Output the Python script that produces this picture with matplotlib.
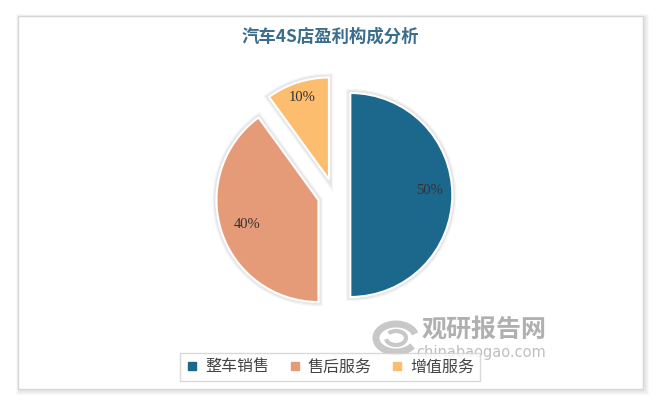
import matplotlib
matplotlib.use("Agg")
import matplotlib.pyplot as plt
import numpy as np
from matplotlib.patches import Rectangle, Wedge
from matplotlib.lines import Line2D

categories = ["整车销售", "售后服务", "增值服务"]
values = [50, 40, 10]
colors = ["#1B688C", "#E69B78", "#FCBE6E"]
title = "汽车4S店盈利构成分析"

plt.rcParams['font.family'] = ['Noto Sans CJK SC', 'DejaVu Sans']

W, H = 660, 405
fig = plt.figure(figsize=(W / 100, H / 100), dpi=100)
fig.patch.set_facecolor("white")

ax = fig.add_axes([0, 0, 1, 1])

# panel with soft shadow
for i in range(4):
    off = 4 - i
    ax.add_patch(Rectangle((18 - off + 2, H - 389 - off - 2), 625 + 2 * off, 373 + 2 * off,
                           facecolor="#000000", alpha=0.025, edgecolor="none", zorder=0))
ax.add_patch(Rectangle((18, H - 389), 625, 373, facecolor="white",
                       edgecolor="#D6D6D6", linewidth=1.0, zorder=1))

R = 102
wedges, _ = ax.pie(values, colors=colors, startangle=90, counterclock=False,
                   explode=[0.16 * R] * len(values), center=(334, H - 195), radius=R,
                   wedgeprops=dict(edgecolor="white", linewidth=1.5),
                   frame=True)
for w in wedges:
    w.set_zorder(3)
    # soft glow behind each slice
    for lw, a in [(6, 0.04), (4, 0.06)]:
        ax.add_patch(Wedge(w.center, w.r, w.theta1, w.theta2, facecolor="none",
                           edgecolor="#000000", linewidth=lw, alpha=a, zorder=2.5))

label_dist = [0.78, 0.74, 0.84]
label_dy = [4, -1, 0]
for w, v, d, dy in zip(wedges, values, label_dist, label_dy):
    ang = np.deg2rad((w.theta1 + w.theta2) / 2)
    cx, cy = w.center
    ax.text(cx + d * w.r * np.cos(ang), cy + d * w.r * np.sin(ang) + dy, f"{v}%",
            ha="center", va="center", fontsize=10.5, color="#333333",
            family="Liberation Serif", zorder=5)

ax.set_xlim(0, W)
ax.set_ylim(0, H)
ax.set_aspect("equal")
ax.axis("off")

# title
ax.text(330, H - 37, title, ha="center", va="center", fontsize=12.5,
        fontweight="bold", color="#3A6E8C", zorder=5)

# watermark
ax.text(484, H - 330, "观研报告网", ha="center", va="center", fontsize=18,
        fontweight="bold", color="#A8A8A8", alpha=0.9, zorder=2)
ax.text(481, H - 352, "chinabaogao.com", ha="center", va="center", fontsize=10.5,
        color="#B8B8B8", alpha=0.9, family="DejaVu Sans", zorder=2)
theta = np.linspace(0.3, 2 * np.pi - 0.6, 100)
ax.plot(396 + 20 * np.cos(theta), H - 338 + 14 * np.sin(theta), color="#C8C8C8", lw=5, zorder=2,
        solid_capstyle="butt")
ax.plot(396 + 10 * np.cos(theta + 3), H - 338 + 7 * np.sin(theta + 3), color="#C8C8C8", lw=3, zorder=2,
        solid_capstyle="butt")

# legend
handles = [Line2D([0], [0], marker="s", linestyle="none", markersize=6,
                  markerfacecolor=c, markeredgecolor=c) for c in colors]
leg = fig.legend(handles, categories, loc="center", bbox_to_anchor=(330 / W, 1 - 367 / H),
                 ncol=3, frameon=True, fancybox=False, edgecolor="#D0D0D0",
                 fontsize=11.5, handlelength=0.8, handletextpad=0.4, columnspacing=1.2,
                 borderpad=0.35)
leg.get_frame().set_linewidth(1.0)
leg.set_zorder(6)
for t in leg.get_texts():
    t.set_color("#444444")

fig.savefig("out.png", dpi=100, facecolor=fig.get_facecolor())
